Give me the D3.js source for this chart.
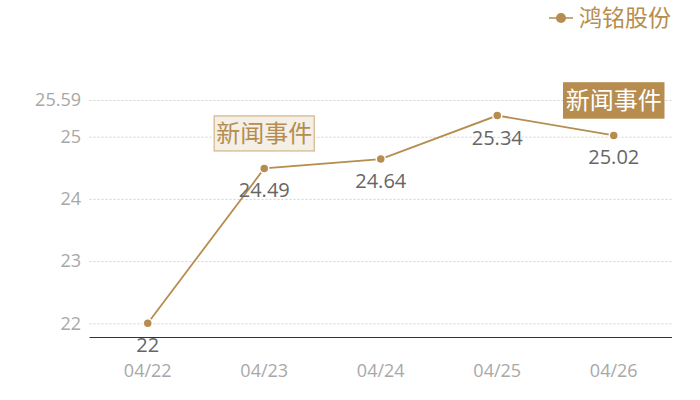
<!DOCTYPE html>
<html><head><meta charset="utf-8">
<script src="https://cdn.jsdelivr.net/npm/d3@7"></script>
<style>body{margin:0;background:#fff}svg{display:block;font-family:"Open Sans","Noto Sans CJK SC",sans-serif}</style>
</head><body><svg id="c" width="700" height="400"></svg>
<script>
const categories = ["04/22","04/23","04/24","04/25","04/26"];
const values = [22, 24.49, 24.64, 25.34, 25.02];
const seriesName = "鸿铭股份";
const yTicks = [22, 23, 24, 25, 25.59];
const yDomain = [21.78, 25.59];
const events = [{cat:"04/23", text:"新闻事件", style:"light"}, {cat:"04/26", text:"新闻事件", style:"dark"}];

const color = "#b68d4f";
const svg = d3.select("#c");
const m = {l:89.5, r:28, t:100, b:63};
const W = 700, H = 400;
const x = d3.scaleBand().domain(categories).range([m.l, W - m.r]);
const y = d3.scaleLinear().domain(yDomain).range([H - m.b, m.t]);
const cx = c => x(c) + x.bandwidth()/2;

// grid
svg.append("g").selectAll("line").data(yTicks).join("line")
  .attr("x1", m.l).attr("x2", W - m.r)
  .attr("y1", d => y(d) + 0.5).attr("y2", d => y(d) + 0.5)
  .attr("stroke", "#d0d0d0").attr("stroke-dasharray", "2,2");

// y labels
svg.append("g").selectAll("text").data(yTicks).join("text")
  .attr("x", 81).attr("y", d => y(d)).attr("dy", "0.35em")
  .attr("text-anchor", "end").attr("fill", "#a8a8a8").attr("font-size", 18)
  .text(d => d);

// x axis
svg.append("line").attr("x1", m.l).attr("x2", W - m.r)
  .attr("y1", H - m.b + 0.5).attr("y2", H - m.b + 0.5).attr("stroke", "#333");
svg.append("g").selectAll("text").data(categories).join("text")
  .attr("x", d => cx(d)).attr("y", 371).attr("dy", "0.35em").attr("text-anchor", "middle")
  .attr("fill", "#a8a8a8").attr("font-size", 18).text(d => d);

// line
const pts = categories.map((c,i) => ({c, v: values[i]}));
svg.append("path").datum(pts)
  .attr("d", d3.line().x(d => cx(d.c)).y(d => y(d.v)))
  .attr("fill", "none").attr("stroke", color).attr("stroke-width", 1.8);
svg.append("g").selectAll("circle").data(pts).join("circle")
  .attr("cx", d => cx(d.c)).attr("cy", d => y(d.v)).attr("r", 4.5)
  .attr("fill", color).attr("stroke", "#fff").attr("stroke-width", 1.5);
svg.append("g").selectAll("text").data(pts).join("text")
  .attr("x", d => cx(d.c)).attr("y", d => y(d.v) + 22).attr("dy", "0.35em")
  .attr("text-anchor", "middle").attr("fill", "#666").attr("font-size", 20)
  .text(d => d.v);

// events
events.forEach(e => {
  const i = categories.indexOf(e.cat);
  const px = cx(e.cat), py = y(values[i]) - 35;
  const g = svg.append("g");
  const bw = 100, bh = 35;
  g.append("rect").attr("x", px - bw/2).attr("y", py - bh/2).attr("width", bw).attr("height", bh)
    .attr("fill", e.style === "dark" ? color : "#f4efe7")
    .attr("stroke", e.style === "dark" ? color : "#d9c29c").attr("stroke-width", 1.5);
  g.append("text").attr("x", px).attr("y", py).attr("dy", "0.35em").attr("text-anchor", "middle")
    .attr("font-family", "'Noto Sans CJK SC',sans-serif").attr("font-size", 24)
    .attr("fill", e.style === "dark" ? "#fff" : color).text(e.text);
});

// legend
const lg = svg.append("g");
lg.append("line").attr("x1", 549).attr("x2", 573).attr("y1", 18).attr("y2", 18).attr("stroke", color).attr("stroke-width", 1.5);
lg.append("circle").attr("cx", 561).attr("cy", 18).attr("r", 5).attr("fill", color);
lg.append("text").attr("x", 579).attr("y", 18).attr("dy", "0.35em")
  .attr("font-family", "'Noto Sans CJK SC',sans-serif").attr("font-size", 23).attr("fill", color).text(seriesName);
</script></body></html>
